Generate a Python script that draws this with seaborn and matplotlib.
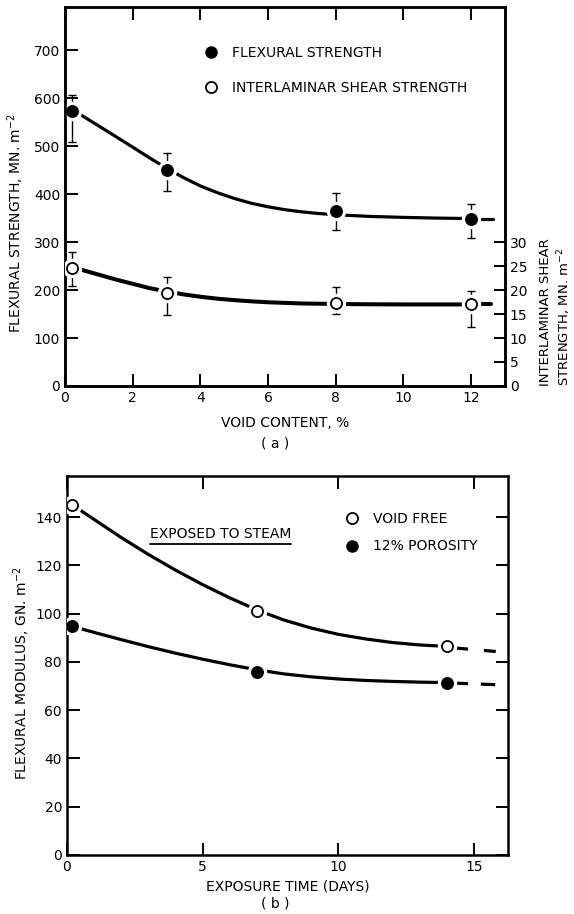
import matplotlib
matplotlib.use("Agg")
import matplotlib.pyplot as plt
from matplotlib.lines import Line2D
import seaborn as sns

# ---- panel (a): strength vs void content ----
void = [0.2, 3, 8, 12]
flex = [574, 451, 365, 348]
flex_hi = [607, 486, 403, 379]
flex_lo = [508, 407, 325, 308]
shear = [24.7, 19.4, 17.4, 17.0]
shear_hi = [27.9, 22.8, 20.6, 19.7]
shear_lo = [20.8, 14.7, 15.0, 12.2]

flex_curve_x = [0.2, 1, 2, 2.5, 3, 3.5, 4, 4.5, 5, 5.5, 6, 6.5, 7, 7.5, 8, 9, 10, 11, 12]
flex_curve_y = [577, 542, 498, 475.5, 454, 434.5, 417, 403, 391, 381, 373.5, 367.5,
                363, 359.5, 357, 353.5, 351.5, 350, 349]
flex_tail_x = [12.25, 12.65]
flex_tail_y = [349, 349]

shear_curve_x = [0.2, 0.5, 1, 1.5, 2, 2.5, 3, 3.5, 4, 4.5, 5, 5.5, 6, 7, 8, 9, 10, 12]
shear_curve_y = [24.7, 24.2, 23.2, 22.2, 21.3, 20.4, 19.7, 19.1, 18.6, 18.2, 17.9, 17.65,
                 17.45, 17.2, 17.1, 17.03, 17.0, 17.0]
shear_tail_x = [12.25, 12.6]
shear_tail_y = [17.0, 17.0]

# ---- panel (b): modulus vs exposure time ----
days = [0.2, 7, 14]
void_free = [145, 101, 86.4]
porosity = [94.7, 76, 71.4]

curve_days = [0.2, 1, 2, 3, 4, 5, 6, 7, 8, 9, 10, 11, 12, 13, 14]
vf_curve_y = [145, 139, 131.5, 124.5, 118, 112, 106.5, 101.5, 97.3, 94, 91.4, 89.5, 88, 87, 86.4]
por_curve_y = [94.7, 92.2, 89.2, 86.3, 83.6, 81.1, 78.8, 76.7, 75.0, 73.8, 72.9, 72.3, 71.9,
               71.6, 71.4]
vf_tail_x = [14.25, 15.8]
vf_tail_y = [85.8, 84.3]
por_tail_x = [14.25, 15.9]
por_tail_y = [71.2, 70.5]

sns.set_style("ticks")
plt.rcParams["font.family"] = ["DejaVu Sans"]
plt.rcParams["mathtext.default"] = "regular"
for k in ["text.color", "axes.labelcolor", "xtick.color", "ytick.color", "axes.edgecolor"]:
    plt.rcParams[k] = "black"
plt.rcParams["axes.linewidth"] = 1.8
plt.rcParams["xtick.major.width"] = 1.4
plt.rcParams["ytick.major.width"] = 1.4
plt.rcParams["xtick.labelsize"] = 10
plt.rcParams["ytick.labelsize"] = 10

LW = 2.3
MS = 8

fig = plt.figure(figsize=(5.74, 9.14), dpi=100)
ax = fig.add_axes([0.1132, 0.5777, 0.7666, 0.4146])
ax2 = ax.twinx()


def draw_points(a, x, y, lo, hi, filled):
    if lo is not None:
        a.errorbar(x, y, yerr=[[v - l for v, l in zip(y, lo)], [h - v for v, h in zip(y, hi)]],
                   fmt="none", ecolor="black", elinewidth=1.0, capsize=3, capthick=1.0, zorder=2)
    a.plot(x, y, "o", ms=MS + 5, color="white", zorder=3)
    sns.scatterplot(x=x, y=y, ax=a, s=MS ** 2, marker="o",
                    color="black" if filled else "white", edgecolor="black",
                    linewidth=1.3, zorder=4)


def curve(a, x, y, lw=LW, dashes=None):
    sns.lineplot(x=x, y=y, ax=a, color="black", lw=lw, estimator=None, sort=False)
    if dashes:
        a.lines[-1].set_dashes(dashes)


curve(ax, flex_curve_x, flex_curve_y)
curve(ax, flex_tail_x, flex_tail_y)
draw_points(ax, void, flex, flex_lo, flex_hi, True)

curve(ax2, shear_curve_x, shear_curve_y, lw=LW + 0.6)
curve(ax2, shear_tail_x, shear_tail_y, lw=LW + 0.6)
draw_points(ax2, void, shear, shear_lo, shear_hi, False)

ax.set_xlim(0, 13)
ax.set_ylim(0, 790)
ax2.set_ylim(0, 79)
ax.set_xticks(range(0, 13, 2))
ax.set_yticks(range(0, 701, 100))
ax2.set_yticks(range(0, 31, 5))
ax.tick_params(direction="in", length=9, top=True, right=False)
ax2.tick_params(direction="in", length=8)
ax.set_xlabel("VOID CONTENT, %", fontsize=10, labelpad=8)
ax.set_ylabel("FLEXURAL STRENGTH, MN. m$^{-2}$", fontsize=10)
ax.yaxis.set_label_coords(-0.088, 0.43)
ax2.set_ylabel("INTERLAMINAR SHEAR\nSTRENGTH, MN. m$^{-2}$", fontsize=9.5,
               rotation=90, ha="left", va="center", multialignment="left",
               linespacing=1.25)
ax2.yaxis.set_label_coords(1.115, 0.0)

handles_a = [Line2D([], [], ls="none", marker="o", ms=MS, mfc="black", mec="black"),
             Line2D([], [], ls="none", marker="o", ms=MS, mfc="white", mec="black", mew=1.3)]
ax.legend(handles_a, ["FLEXURAL STRENGTH", "INTERLAMINAR SHEAR STRENGTH"],
          loc="upper left", bbox_to_anchor=(0.316, 0.898), frameon=False,
          fontsize=10, handlelength=1.0, handletextpad=1.0, labelspacing=1.55,
          borderpad=0, borderaxespad=0)
fig.text(0.48, 0.515, "( a )", ha="center", va="center", fontsize=10)

# ---- bottom panel ----
bx = fig.add_axes([0.1167, 0.0646, 0.7683, 0.4146])

curve(bx, curve_days, vf_curve_y)
curve(bx, vf_tail_x, vf_tail_y, dashes=[4.5, 5])
curve(bx, curve_days, por_curve_y)
curve(bx, por_tail_x, por_tail_y, dashes=[4.5, 4])
draw_points(bx, days, void_free, None, None, False)
draw_points(bx, days, porosity, None, None, True)

bx.set_xlim(0, 16.25)
bx.set_ylim(0, 157)
bx.set_xticks([0, 5, 10, 15])
bx.set_yticks(range(0, 141, 20))
bx.tick_params(direction="in", length=9, top=True, right=True)
bx.set_xlabel("EXPOSURE TIME (DAYS)", fontsize=10)
bx.set_ylabel("FLEXURAL MODULUS, GN. m$^{-2}$", fontsize=10)
bx.yaxis.set_label_coords(-0.08, 0.48)

handles_b = [Line2D([], [], ls="none", marker="o", ms=MS, mfc="white", mec="black", mew=1.3),
             Line2D([], [], ls="none", marker="o", ms=MS, mfc="black", mec="black")]
bx.legend(handles_b, ["VOID FREE", "12% POROSITY"],
          loc="upper left", bbox_to_anchor=(0.630, 0.905), frameon=False,
          fontsize=10, handlelength=1.0, handletextpad=1.0, labelspacing=0.97,
          borderpad=0, borderaxespad=0)

t = bx.text(3.06, 133, "EXPOSED TO STEAM", fontsize=10, ha="left", va="center")
fig.text(0.48, 0.012, "( b )", ha="center", va="center", fontsize=10)

fig.canvas.draw()
bb = t.get_window_extent(fig.canvas.get_renderer())
fig.add_artist(Line2D([bb.x0, bb.x1], [bb.y0 - 3, bb.y0 - 3], transform=None,
                      color="black", lw=1.3))

fig.savefig("out.png", dpi=100)
